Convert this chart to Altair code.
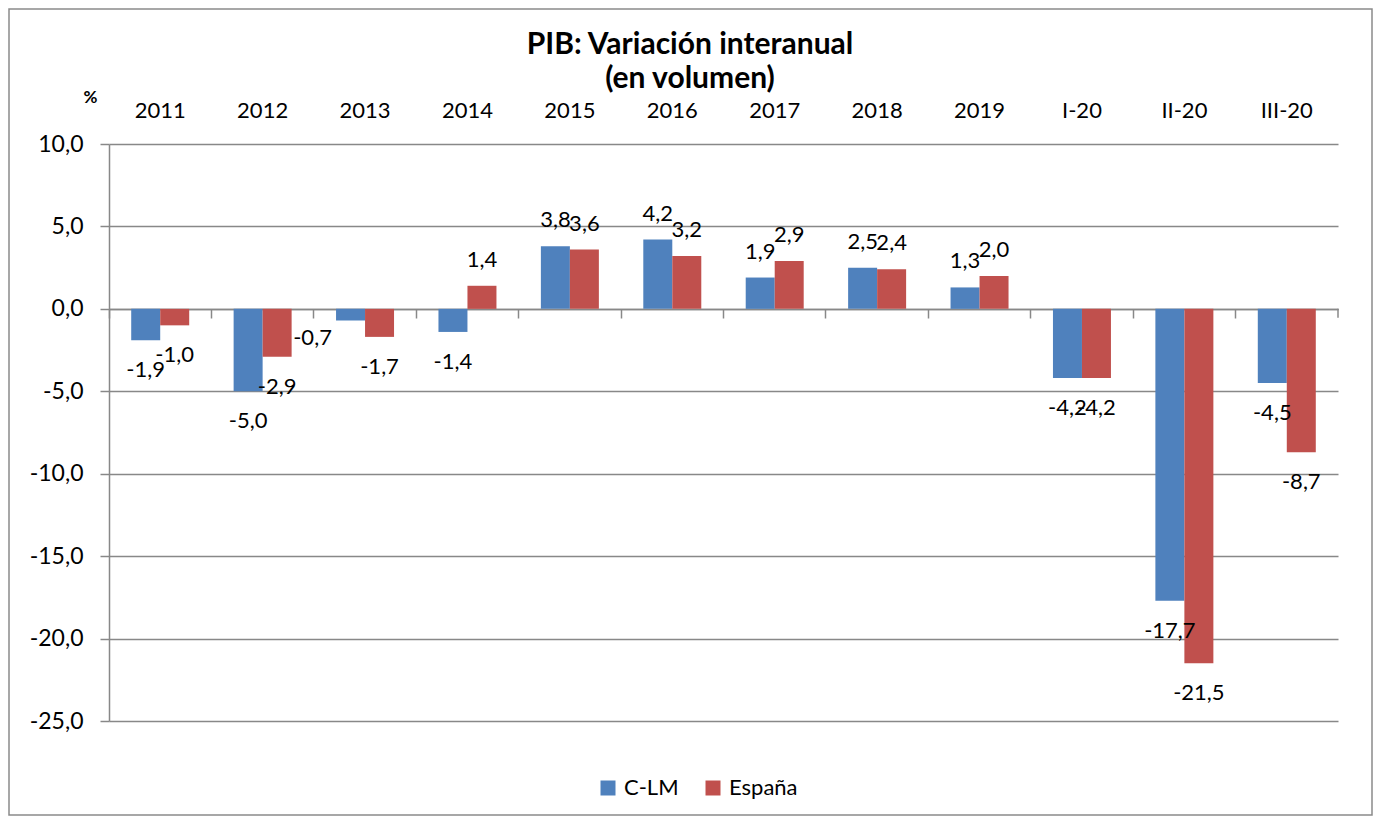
import altair as alt
import pandas as pd

categorias = ["2011", "2012", "2013", "2014", "2015", "2016", "2017", "2018", "2019", "I-20", "II-20", "III-20"]
clm = [-1.9, -5.0, -0.7, -1.4, 3.8, 4.2, 1.9, 2.5, 1.3, -4.2, -17.7, -4.5]
espana = [-1.0, -2.9, -1.7, 1.4, 3.6, 3.2, 2.9, 2.4, 2.0, -4.2, -21.5, -8.7]
series = ["C-LM", "España"]
colores = ["#4F81BD", "#C0504D"]
y_ticks = [-25, -20, -15, -10, -5, 0, 5, 10]
titulo = ["PIB: Variación interanual", "(en volumen)"]

rows = []
for i, c in enumerate(categorias):
    for s, vals in zip(series, [clm, espana]):
        v = vals[i]
        rows.append({"cat": c, "serie": s, "valor": v,
                     "etiqueta": f"{v:.1f}".replace(".", ",")})
df = pd.DataFrame(rows)

W, H = 1229, 577
FONT = "Lato"
GRAY = "#888888"

xscale = alt.Scale(paddingInner=0, paddingOuter=0)
xoff = alt.XOffset("serie:N", sort=series, scale=alt.Scale(paddingOuter=0.766, paddingInner=0))
yscale = alt.Scale(domain=[-25, 10], nice=False)

base = alt.Chart(df)

yaxis = alt.Axis(values=y_ticks, labelExpr="datum.value + ',0'",
                 title="%", titleAngle=0, titleX=-19, titleY=-47,
                 titleAlign="center", titleBaseline="middle",
                 titleFont=FONT, titleFontSize=17, titleFontWeight="bold", titleColor="black",
                 grid=True, gridColor=GRAY, gridWidth=1.5,
                 domain=True, domainColor=GRAY, domainWidth=1.5,
                 ticks=True, tickColor=GRAY, tickWidth=1.5, tickSize=9,
                 labelPadding=17, labelFont=FONT, labelFontSize=23, labelColor="black")

yenc = alt.Y("valor:Q", scale=yscale, axis=yaxis)

bars = base.mark_bar().encode(
    x=alt.X("cat:N", sort=categorias, scale=xscale,
            axis=alt.Axis(orient="top", title=None, domain=False, ticks=False, grid=False,
                          labelAngle=0, labelFont=FONT, labelFontSize=22, labelColor="black",
                          labelPadding=22)),
    xOffset=xoff,
    y=yenc,
    color=alt.Color("serie:N", sort=series, scale=alt.Scale(domain=series, range=colores),
                    legend=alt.Legend(orient="none", legendX=488, legendY=633, direction="horizontal",
                                      title=None, symbolType="square", symbolSize=225,
                                      symbolStrokeWidth=0, labelFont=FONT, labelFontSize=22,
                                      labelColor="black", labelOffset=5, columnPadding=23, padding=0)),
)

zero_axis = base.mark_bar(opacity=0).encode(
    x=alt.X("cat:N", sort=categorias, scale=xscale,
            axis=alt.Axis(orient="bottom", offset=-412, title=None, labels=False, grid=False,
                          domain=True, domainColor=GRAY, domainWidth=1.5,
                          ticks=True, tickColor=GRAY, tickWidth=1.5, tickSize=9, bandPosition=0)),
    xOffset=xoff,
    y=yenc,
)

end_tick = alt.Chart(pd.DataFrame({"a": [0]})).mark_rule(color=GRAY, strokeWidth=1.5).encode(
    x=alt.value(W), y=alt.value(H * 10 / 35), y2=alt.value(H * 10 / 35 + 9)
)

def labels(filt, dx, dy):
    return base.transform_filter(filt).mark_text(
        font=FONT, fontSize=22, color="black", baseline="middle", align="center", dx=dx, dy=dy
    ).encode(
        x=alt.X("cat:N", sort=categorias, scale=xscale, axis=None),
        xOffset=xoff,
        y=yenc,
        text="etiqueta:N",
    )

special = "datum.cat == '2013' && datum.serie == 'C-LM'"
lab_pos = labels("datum.valor >= 0", 0, -26)
lab_neg = labels(f"datum.valor < 0 && !({special})", 0, 30)
lab_sp = labels(special, -38, 18)

one = pd.DataFrame({"a": [0]})
t1 = alt.Chart(one).mark_text(font=FONT, fontSize=30, fontWeight="bold", color="black",
                               align="center", baseline="middle").encode(
    x=alt.value(581), y=alt.value(-99), text=alt.value(titulo[0]))
t2 = alt.Chart(one).mark_text(font=FONT, fontSize=30, fontWeight="bold", color="black",
                               align="center", baseline="middle").encode(
    x=alt.value(581), y=alt.value(-65), text=alt.value(titulo[1]))

border = alt.Chart(one).mark_rect(fillOpacity=0, stroke="#8a8a8a", strokeWidth=1.5).encode(
    x=alt.value(-100), x2=alt.value(1263), y=alt.value(-135), y2=alt.value(671)
)

chart = alt.layer(
    bars, zero_axis, end_tick, lab_pos, lab_neg, lab_sp, t1, t2, border
).resolve_axis(x="independent").properties(
    width=W, height=H,
    padding={"left": 101, "top": 136, "right": 35, "bottom": 96},
    autosize=alt.AutoSizeParams(type="none"),
    background="white",
).configure_view(strokeWidth=0)

chart.save("out.html", embed_options={"renderer": "svg", "actions": False})
